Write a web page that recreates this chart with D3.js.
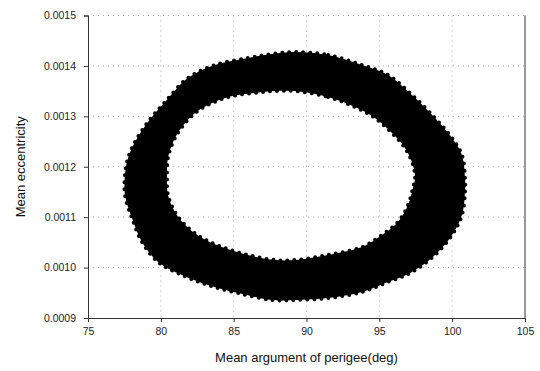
<!DOCTYPE html>
<html>
<head>
<meta charset="utf-8">
<script src="https://cdn.jsdelivr.net/npm/d3@7"></script>
<style>
  body { margin: 0; background: #fff; }
  svg { display: block; font-family: "Liberation Sans", Arial, sans-serif; }
</style>
</head>
<body>
<svg id="chart"></svg>
<script>
// outer edge of the point cloud [perigee deg, eccentricity]
const outerEdge = [
  [89.21, 0.0014276], [91.48, 0.0014217], [93.81, 0.0014018], [95.59, 0.0013820],
  [97.24, 0.0013423], [98.82, 0.0012967], [99.99, 0.0012570], [100.67, 0.0012233],
  [100.88, 0.0011777], [100.88, 0.0011499], [100.67, 0.0011043], [99.99, 0.0010646],
  [98.82, 0.0010250], [97.24, 0.0009912], [95.59, 0.0009714], [93.81, 0.0009516],
  [91.48, 0.0009396], [89.21, 0.0009357], [87.63, 0.0009357], [85.30, 0.0009496],
  [83.24, 0.0009654], [81.45, 0.0009853], [79.81, 0.0010111], [78.71, 0.0010507],
  [78.02, 0.0010983], [77.54, 0.0011440], [77.54, 0.0011836], [77.75, 0.0012173],
  [78.23, 0.0012491], [79.12, 0.0012888], [80.29, 0.0013284], [81.86, 0.0013760],
  [83.72, 0.0014018], [85.98, 0.0014157], [87.63, 0.0014236]
]

// inner edge (the hole in the middle)
const innerEdge = [
  [89.21, 0.0013502], [91.48, 0.0013383], [93.33, 0.0013185], [94.70, 0.0012967],
  [95.87, 0.0012669], [96.76, 0.0012372], [97.31, 0.0012035], [97.45, 0.0011777],
  [97.31, 0.0011579], [96.97, 0.0011241], [96.28, 0.0010904], [95.18, 0.0010646],
  [93.81, 0.0010408], [91.48, 0.0010250], [89.21, 0.0010150], [87.84, 0.0010150],
  [85.98, 0.0010250], [84.20, 0.0010408], [82.83, 0.0010587], [81.66, 0.0010845],
  [80.97, 0.0011102], [80.49, 0.0011440], [80.42, 0.0011777], [80.49, 0.0012173],
  [80.84, 0.0012491], [81.45, 0.0012788], [82.35, 0.0013066], [83.51, 0.0013264],
  [84.89, 0.0013403], [86.46, 0.0013463], [87.84, 0.0013502]
]

const xTickValues = [75, 80, 85, 90, 95, 100, 105]
const yTickValues = [0.0009, 0.0010, 0.0011, 0.0012, 0.0013, 0.0014, 0.0015]
const xLabel = 'Mean argument of perigee(deg)'
const yLabel = 'Mean eccentricity'

const width = 540, height = 371
const margin = { top: 15.5, right: 15, bottom: 53, left: 88 }
const w = width - margin.left - margin.right
const h = height - margin.top - margin.bottom

const svg = d3.select('#chart')
  .attr('width', width)
  .attr('height', height)

const chart = svg.append('g')
  .attr('transform', `translate(${margin.left}, ${margin.top})`)

const x = d3.scaleLinear().domain([75, 105]).range([0, w])
const y = d3.scaleLinear().domain([0.0009, 0.0015]).range([h, 0])

// dotted grid
chart.append('g')
  .selectAll('line')
  .data(yTickValues.slice(1))
  .join('line')
    .attr('x1', 0).attr('x2', w)
    .attr('y1', d => y(d)).attr('y2', d => y(d))
    .attr('stroke', '#aaa')
    .attr('stroke-width', 1)
    .attr('stroke-dasharray', '1,4')

chart.append('g')
  .selectAll('line')
  .data(xTickValues.slice(1, -1))
  .join('line')
    .attr('x1', d => x(d)).attr('x2', d => x(d))
    .attr('y1', 0).attr('y2', h)
    .attr('stroke', '#aaa')
    .attr('stroke-width', 1)
    .attr('stroke-dasharray', '1,4')

// the ring of points
const edge = d3.line()
  .x(d => x(d[0]))
  .y(d => y(d[1]))
  .curve(d3.curveCatmullRomClosed)

chart.append('path')
  .attr('d', edge(outerEdge) + edge(innerEdge))
  .attr('fill', '#000')
  .attr('fill-rule', 'evenodd')

// bumpy rim made of the individual markers
chart.selectAll('.rim')
  .data([outerEdge, innerEdge])
  .join('path')
    .attr('class', 'rim')
    .attr('d', edge)
    .attr('fill', 'none')
    .attr('stroke', '#000')
    .attr('stroke-width', 4)
    .attr('stroke-linecap', 'round')
    .attr('stroke-dasharray', '0,7')

// right border
chart.append('line')
  .attr('x1', w).attr('x2', w)
  .attr('y1', 0).attr('y2', h)
  .attr('stroke', '#333')

// axes
const xAxis = d3.axisBottom(x)
  .tickValues(xTickValues)
  .tickSize(4)
  .tickPadding(6)
  .tickFormat(d3.format('d'))

const yAxis = d3.axisLeft(y)
  .tickValues(yTickValues)
  .tickSize(4)
  .tickPadding(8)
  .tickFormat(d3.format('.4f'))

chart.append('g')
  .attr('class', 'x axis')
  .attr('transform', `translate(0, ${h})`)
  .call(xAxis)

chart.append('g')
  .attr('class', 'y axis')
  .call(yAxis)

chart.selectAll('.axis path, .axis line').attr('stroke', '#333')
chart.selectAll('.axis text')
  .attr('fill', '#222')
  .style('font-size', '10.5px')

// titles
svg.append('text')
  .attr('x', margin.left + w / 2)
  .attr('y', 362)
  .attr('text-anchor', 'middle')
  .attr('fill', '#111')
  .style('font-size', '13px')
  .text(xLabel)

svg.append('text')
  .attr('transform', `translate(25, ${margin.top + h / 2}) rotate(-90)`)
  .attr('text-anchor', 'middle')
  .attr('fill', '#111')
  .style('font-size', '13px')
  .text(yLabel)
</script>
</body>
</html>
